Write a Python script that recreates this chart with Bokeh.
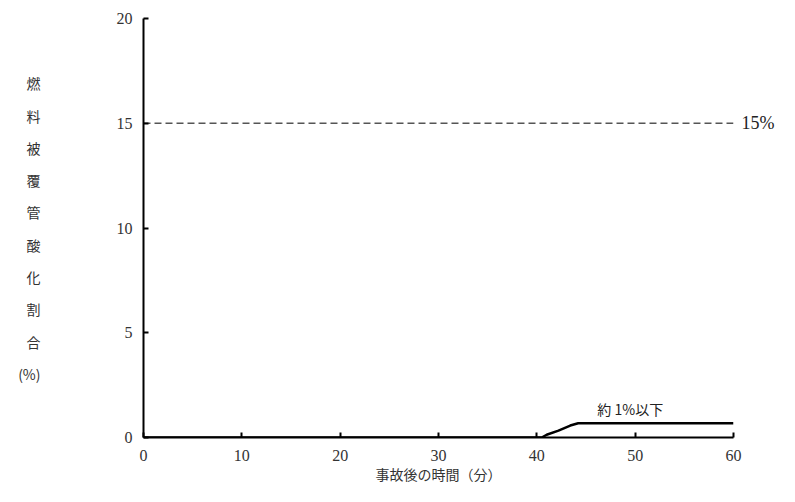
from bokeh.plotting import figure
from bokeh.models import Range1d, FixedTicker, Label, LinearAxis
from bokeh.embed import file_html
from bokeh.resources import INLINE

# data
time_min = [0, 40.5, 41.0, 42.2, 43.4, 44.2, 60]
oxidation_pct = [0, 0, 0.13, 0.33, 0.57, 0.68, 0.68]
limit_x = [0, 60]
limit_y = [15, 15]
x_ticks = [0, 10, 20, 30, 40, 50, 60]
y_ticks = [0, 5, 10, 15, 20]
y_title_chars = ["燃", "料", "被", "覆", "管", "酸", "化", "割", "合", "(%)"]
x_title = "事故後の時間（分）"
limit_label = "15%"
curve_label = "約 1%以下"

SERIF = "Liberation Serif"
JP = "Noto Sans CJK JP"

p = figure(width=779, height=486, output_backend="svg", toolbar_location=None,
           x_range=Range1d(0, 60), y_range=Range1d(0, 20),
           min_border_left=143, min_border_right=46, min_border_top=18, min_border_bottom=49)
p.outline_line_color = None
p.xgrid.grid_line_color = None
p.ygrid.grid_line_color = None
p.background_fill_color = "white"

for ax, ticks in ((p.xaxis[0], x_ticks), (p.yaxis[0], y_ticks)):
    ax.ticker = FixedTicker(ticks=ticks)
    ax.axis_line_width = 2
    ax.axis_line_color = "black"
    ax.major_tick_in = 5
    ax.major_tick_out = 0
    ax.major_tick_line_width = 2
    ax.major_tick_line_color = "black"
    ax.minor_tick_line_color = None
    ax.major_label_text_font = SERIF
    ax.major_label_text_font_size = "16px"
    ax.major_label_text_color = "#333333"
p.xaxis.major_label_standoff = 12
p.yaxis.major_label_standoff = 11

# x title
p.xaxis.axis_label = x_title
p.xaxis.axis_label_text_font = JP
p.xaxis.axis_label_text_font_size = "14px"
p.xaxis.axis_label_text_font_style = "normal"
p.xaxis.axis_label_text_color = "#333333"
p.xaxis.axis_label_standoff = 0


def bare_axis(ax):
    ax.axis_line_color = None
    ax.major_tick_line_color = None
    ax.minor_tick_line_color = None
    ax.major_tick_in = 0
    ax.major_tick_out = 0
    ax.minor_tick_in = 0
    ax.minor_tick_out = 0


# stacked y title, drawn as labels of an extra left axis
y0 = 16.9
step = 1.54
title_pos = [round(y0 - i * step, 2) for i in range(len(y_title_chars))]
ytitle_axis = LinearAxis(ticker=FixedTicker(ticks=title_pos),
                         major_label_overrides={v: c for v, c in zip(title_pos, y_title_chars)})
bare_axis(ytitle_axis)
ytitle_axis.major_label_standoff = 73
ytitle_axis.major_label_text_font = JP
ytitle_axis.major_label_text_font_size = "14px"
ytitle_axis.major_label_text_color = "#333333"
p.add_layout(ytitle_axis, "left")

# "15%" label as a right axis label
right_axis = LinearAxis(ticker=FixedTicker(ticks=[15]), major_label_overrides={15: limit_label})
bare_axis(right_axis)
right_axis.major_label_standoff = 8
right_axis.major_label_text_font = SERIF
right_axis.major_label_text_font_size = "18px"
right_axis.major_label_text_color = "#222222"
p.add_layout(right_axis, "right")

p.line(limit_x, limit_y, line_color="#555555", line_width=1.3, line_dash="7 4")
p.line(time_min, oxidation_pct, line_color="black", line_width=2.5)

p.add_layout(Label(x=49.5, y=1.38, text=curve_label, text_font=JP,
                   text_font_size="14px", text_color="#222222",
                   text_align="center", text_baseline="middle"))

open("out.html", "w").write(file_html(p, INLINE))
